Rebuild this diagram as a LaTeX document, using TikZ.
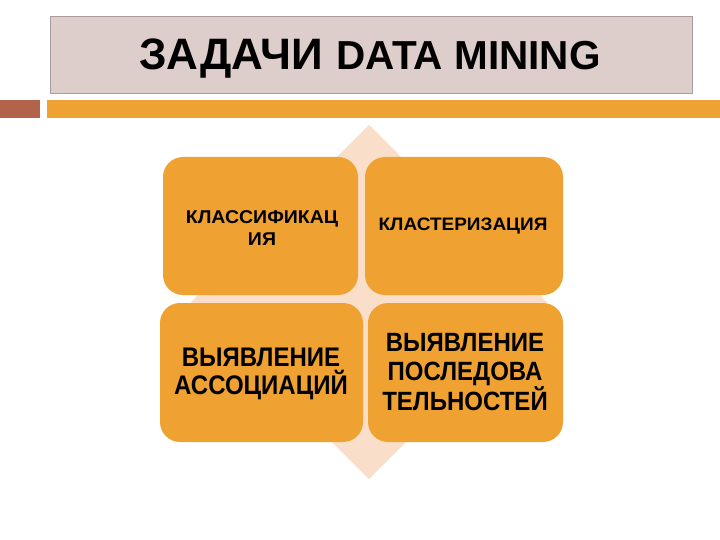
\documentclass[tikz,border=0pt]{standalone}
\usepackage{fontspec}
\setmainfont{Liberation Sans}
\definecolor{boxorange}{HTML}{EFA232}
\definecolor{peach}{HTML}{F9DFC9}
\definecolor{titlefill}{HTML}{DDCECC}
\definecolor{titleline}{HTML}{A99C9A}
\definecolor{brownsq}{HTML}{B3634A}
\definecolor{barorange}{HTML}{EEA233}
\tikzset{
  task/.style={fill=boxorange, draw=none, rounded corners=20pt},
  tasktext/.style={font=\bfseries, align=center, text=black, inner sep=0pt},
}
\begin{document}
\begin{tikzpicture}[x=1pt,y=-1pt]
\useasboundingbox (0,0) rectangle (720,540);
\fill[white] (0,0) rectangle (720,540);
% title box
\node[draw=titleline, fill=titlefill, line width=0.8pt, minimum width=642pt, minimum height=77pt, inner sep=0pt, anchor=north west] (title) at (50,16) {};
\node[font=\bfseries, inner sep=0pt, anchor=base] (titletext) at (370,70)
  {\fontsize{44}{44}\selectfont ЗАДАЧИ\hspace{14pt}\fontsize{40.5}{40.5}\selectfont DATA MINING};
% bars
\fill[brownsq] (0,100) rectangle (40,118);
\fill[barorange] (47,100) rectangle (720,118);
% diamond
\fill[peach] (369,125) -- (547,302) -- (369,479) -- (191,302) -- cycle;
% boxes
\fill[task] (163,157) rectangle (358,295);
\fill[task] (365,157) rectangle (563,295);
\fill[task] (160,303) rectangle (363,442);
\fill[task] (368,303) rectangle (563,442);
\node[tasktext, font=\bfseries\fontsize{19.5}{23}\selectfont, yscale=0.95] (cls) at (262,228) {КЛАССИФИКАЦ\\ИЯ};
\node[tasktext, font=\bfseries\fontsize{19}{22}\selectfont, yscale=0.95] (clu) at (463,226) {КЛАСТЕРИЗАЦИЯ};
\node[tasktext, font=\bfseries\fontsize{24}{25}\selectfont, yscale=1.12] (asc) at (261,374) {ВЫЯВЛЕНИЕ\\АССОЦИАЦИЙ};
\node[tasktext, font=\bfseries\fontsize{24}{26}\selectfont, yscale=1.1] (seq) at (465,372) {ВЫЯВЛЕНИЕ\\ПОСЛЕДОВА\\ТЕЛЬНОСТЕЙ};
\end{tikzpicture}
\end{document}
